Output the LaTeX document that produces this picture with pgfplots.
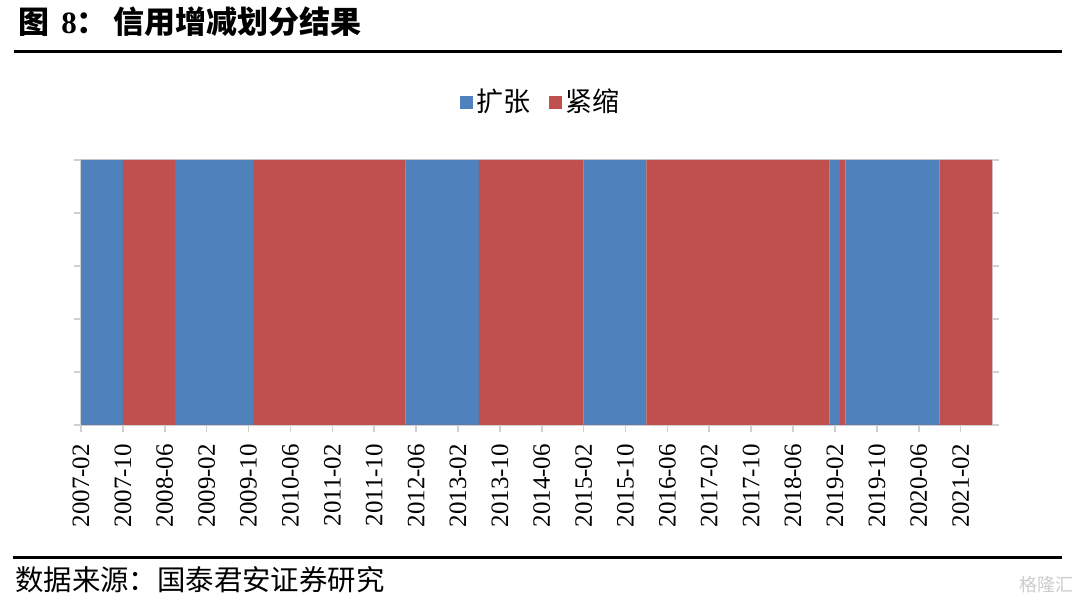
\documentclass[border=0pt]{standalone}
\usepackage{pgfplots}
\pgfplotsset{compat=1.18}
\usepackage{fontspec}
\setmainfont{Liberation Serif}
\newfontfamily\cjk{Noto Sans CJK SC}
\definecolor{xblue}{HTML}{4F81BD}
\definecolor{xred}{HTML}{C0504D}
\definecolor{axgray}{HTML}{D0D0D0}
\begin{document}
\begin{tikzpicture}
\path[use as bounding box] (0,0) rectangle (540pt,302.5pt);
\node[anchor=west, inner sep=0] at (9pt,291.5pt) {\cjk\bfseries\fontsize{15.5}{18}\selectfont 图\hspace{6pt}{\rmfamily\bfseries 8}：\hspace{3pt}信用增减划分结果};
\draw[line width=1.5pt] (7pt,276.75pt) -- (531pt,276.75pt);
\draw[line width=1.5pt] (6.5pt,23.75pt) -- (531pt,23.75pt);
\node[anchor=west, inner sep=0] at (7.5pt,12.5pt) {\cjk\fontsize{14.2}{16}\selectfont 数据来源：国泰君安证券研究};
\node[anchor=east, inner sep=0, text=gray!40] at (537pt,10pt) {\cjk\fontsize{9}{10}\selectfont 格隆汇};
\begin{axis}[at={(40.5pt,90pt)}, anchor=south west, scale only axis,
  width=455.5pt, height=132.5pt,
  xmin=0, xmax=174, ymin=0, ymax=1,
  xtick={0,8,...,168},
  xticklabels={2007-02,2007-10,2008-06,2009-02,2009-10,2010-06,2011-02,2011-10,2012-06,2013-02,2013-10,2014-06,2015-02,2015-10,2016-06,2017-02,2017-10,2018-06,2019-02,2019-10,2020-06,2021-02},
  xticklabel style={rotate=90, anchor=east, font=\fontsize{12.5}{14}\selectfont},
  xticklabel shift=2.5pt,
  /pgf/number format/assume math mode=true,
  ytick={0,0.2,0.4,0.6,0.8,1}, yticklabels={},
  tick align=outside, xtick pos=left, ytick pos=both,
  major tick length=3.5pt,
  tick style={axgray, line width=0.8pt},
  axis line style={axgray, line width=0.8pt},
  legend style={at={(0.506,1.219)}, anchor=center, draw=none, fill=none,
    legend columns=2, font=\cjk\fontsize{13.5}{15}\selectfont,
    /tikz/every even column/.append style={column sep=7pt}},
]
\addlegendimage{legend image code/.code={\fill[xblue] (0pt,-3pt) rectangle (6pt,3pt);}}
\addlegendentry{扩张}
\addlegendimage{legend image code/.code={\fill[xred] (0pt,-3pt) rectangle (6pt,3pt);}}
\addlegendentry{紧缩}
\addplot[ybar interval, fill=xblue, draw=none, forget plot] coordinates {
(0,1)(8,0)(18,1)(33,0)(62,1)(76,0)(96,1)(108,0)(143,1)(145,0)(146,1)(164,0)(174,0)};
\addplot[ybar interval, fill=xred, draw=none, forget plot] coordinates {
(0,0)(8,1)(18,0)(33,1)(62,0)(76,1)(96,0)(108,1)(143,0)(145,1)(146,0)(164,1)(174,1)};
\end{axis}
\end{tikzpicture}
\end{document}
